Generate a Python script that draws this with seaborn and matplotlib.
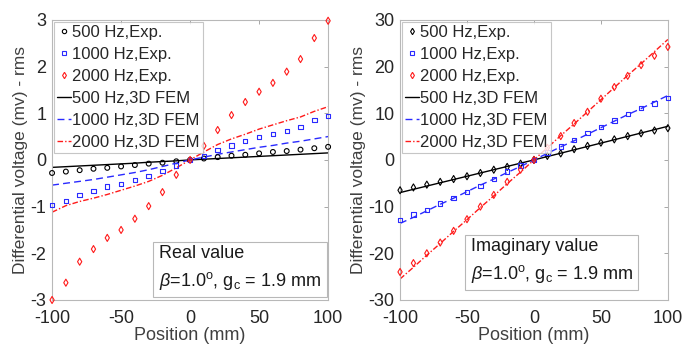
import numpy as np
import pandas as pd
import matplotlib
matplotlib.use("Agg")
import matplotlib.pyplot as plt
import seaborn as sns

positions = [-100, -90, -80, -70, -60, -50, -40, -30, -20, -10, 0,
             10, 20, 30, 40, 50, 60, 70, 80, 90, 100]

# Real value panel
real_500_exp = [-0.28, -0.25, -0.22, -0.19, -0.17, -0.14, -0.11, -0.08, -0.06, -0.03, 0.0,
                0.03, 0.06, 0.09, 0.11, 0.14, 0.17, 0.19, 0.22, 0.25, 0.28]
real_1000_exp = [-0.96, -0.88, -0.75, -0.66, -0.57, -0.51, -0.43, -0.34, -0.24, -0.12, 0.0,
                 0.09, 0.21, 0.31, 0.41, 0.49, 0.56, 0.62, 0.71, 0.86, 0.94]
real_2000_exp = [-3.0, -2.63, -2.18, -1.91, -1.67, -1.5, -1.26, -0.99, -0.69, -0.32, 0.0,
                 0.30, 0.64, 0.96, 1.24, 1.46, 1.65, 1.89, 2.16, 2.61, 2.98]
real_500_fem = [-0.16, -0.145, -0.13, -0.115, -0.10, -0.085, -0.07, -0.05, -0.035, -0.02, 0.0,
                0.015, 0.03, 0.045, 0.06, 0.075, 0.09, 0.105, 0.12, 0.135, 0.15]
real_1000_fem = [-0.54, -0.50, -0.46, -0.42, -0.37, -0.32, -0.27, -0.21, -0.14, -0.07, 0.0,
                 0.06, 0.12, 0.17, 0.22, 0.27, 0.31, 0.36, 0.40, 0.45, 0.50]
real_2000_fem = [-1.12, -0.98, -0.89, -0.82, -0.74, -0.65, -0.56, -0.46, -0.33, -0.17, 0.0,
                 0.17, 0.33, 0.45, 0.55, 0.66, 0.75, 0.84, 0.92, 1.04, 1.14]

# Imaginary value panel
imag_500_exp = [-6.5, -5.9, -5.3, -4.7, -4.1, -3.5, -2.8, -2.1, -1.5, -0.8, 0.0,
                0.85, 1.4, 2.3, 3.0, 3.7, 4.4, 5.1, 5.7, 6.3, 6.8]
imag_1000_exp = [-12.9, -11.7, -10.7, -9.3, -8.2, -6.9, -5.6, -4.1, -2.5, -1.2, 0.0,
                 1.6, 2.9, 4.3, 5.7, 7.1, 8.4, 9.8, 11.1, 12.1, 13.2]
imag_2000_exp = [-24.0, -22.1, -20.0, -17.7, -15.2, -12.7, -10.0, -7.5, -4.7, -2.1, 0.0,
                 2.6, 5.1, 7.9, 10.3, 13.1, 15.6, 18.0, 20.3, 22.3, 24.2]
imag_500_fem = [-7.0, -6.3, -5.6, -4.9, -4.2, -3.5, -2.8, -2.1, -1.4, -0.7, 0.0,
                0.72, 1.44, 2.16, 2.88, 3.6, 4.32, 5.04, 5.76, 6.48, 7.2]
imag_1000_fem = [-13.6, -12.3, -10.9, -9.5, -8.2, -6.8, -5.4, -4.1, -2.7, -1.4, 0.0,
                 1.4, 2.8, 4.1, 5.5, 6.9, 8.3, 9.7, 11.0, 12.4, 13.8]
imag_2000_fem = [-25.5, -23.0, -20.4, -17.9, -15.3, -12.8, -10.2, -7.7, -5.1, -2.6, 0.0,
                 2.6, 5.2, 7.7, 10.3, 12.9, 15.5, 18.1, 20.6, 23.2, 25.8]

xticks = [-100, -50, 0, 50, 100]
real_yticks = [-3, -2, -1, 0, 1, 2, 3]
imag_yticks = [-30, -20, -10, 0, 10, 20, 30]
legend_labels = ["500 Hz,Exp.", "1000 Hz,Exp.", "2000 Hz,Exp.",
                 "500 Hz,3D FEM", "1000 Hz,3D FEM", "2000 Hz,3D FEM"]

sns.set_style("white")
plt.rcParams['font.family'] = ['Liberation Sans', 'DejaVu Sans']
plt.rcParams['mathtext.fontset'] = 'custom'
plt.rcParams['mathtext.rm'] = 'Liberation Sans'
plt.rcParams['mathtext.it'] = 'Liberation Sans:italic'

fig = plt.figure(figsize=(6.85, 3.48), dpi=100)
ax1 = fig.add_axes([0.076, 0.138, 0.403, 0.805])
ax2 = fig.add_axes([0.584, 0.138, 0.391, 0.805])

BLACK = "#000000"
BLUE = "#2a2aff"
RED = "#ff1a1a"
GRAY = "#b8b8b8"
MSIZE = {"o": 12, "s": 10, "d": 13}


def draw(ax, exp, fem, markers, yticks, ylim, boxtitle, boxpos):
    x = positions
    colors = [BLACK, BLUE, RED]
    styles = ["-", (0, (5, 3)), (0, (4, 1.5, 1, 1.5))]
    handles = []
    for vals, col, mk in zip(exp, colors, markers):
        df = pd.DataFrame({"x": x, "y": vals})
        sns.scatterplot(data=df, x="x", y="y", ax=ax, marker=mk, s=MSIZE[mk],
                        facecolor="none", edgecolor=col, linewidth=0.8, zorder=3,
                        clip_on=False)
        h, = ax.plot([], [], linestyle="none", marker=mk,
                     markersize=np.sqrt(MSIZE[mk]) * 0.9,
                     markerfacecolor="none", markeredgecolor=col, markeredgewidth=0.8)
        handles.append(h)
    for vals, col, ls in zip(fem, colors, styles):
        df = pd.DataFrame({"x": x, "y": vals})
        sns.lineplot(data=df, x="x", y="y", ax=ax, color=col, linestyle=ls,
                     linewidth=1.0, zorder=2)
        h, = ax.plot([], [], color=col, linestyle=ls, linewidth=1.0)
        handles.append(h)
    ax.set_xlim(-100, 100)
    ax.set_ylim(*ylim)
    ax.set_xticks(xticks)
    ax.set_yticks(yticks)
    ax.set_xticklabels([str(t) for t in xticks])
    ax.set_yticklabels([str(t) for t in yticks])
    ax.tick_params(direction="in", length=3, width=0.6, color="#999999",
                   labelsize=13, top=True, right=True,
                   labelcolor="#262626")
    ax.tick_params(axis="x", pad=7)
    ax.tick_params(axis="y", pad=4)
    for s in ax.spines.values():
        s.set_color(GRAY)
        s.set_linewidth(0.8)
    ax.set_xlabel("Position (mm)", fontsize=13, color="#404040", labelpad=0)
    ax.set_ylabel("Differential voltage (mv) - rms", fontsize=12.5, color="#404040",
                  labelpad=2)
    leg = ax.legend(handles, legend_labels, loc="upper left", fontsize=12,
                    handlelength=0.85, handletextpad=0.05, borderpad=0.2,
                    labelspacing=0.42, borderaxespad=0.1, fancybox=False,
                    frameon=True)
    leg.get_frame().set_edgecolor(GRAY)
    leg.get_frame().set_linewidth(0.8)
    ax.text(boxpos[0], boxpos[1],
            boxtitle + "\n" + r"$\mathit{\beta}$=1.0$^{\mathrm{o}}$, g$_{\mathrm{c}}$ = 1.9 mm",
            transform=ax.transAxes, ha="right", va="bottom", fontsize=13,
            multialignment="left", linespacing=1.45, color="#1a1a1a",
            bbox=dict(boxstyle="square,pad=0.3", facecolor="white",
                      edgecolor=GRAY, linewidth=0.8))


draw(ax1, [real_500_exp, real_1000_exp, real_2000_exp],
     [real_500_fem, real_1000_fem, real_2000_fem],
     ["o", "s", "d"], real_yticks, (-3, 3), "Real value", (0.975, 0.03))
draw(ax2, [imag_500_exp, imag_1000_exp, imag_2000_exp],
     [imag_500_fem, imag_1000_fem, imag_2000_fem],
     ["d", "s", "d"], imag_yticks, (-30, 30), "Imaginary value", (0.87, 0.055))

fig.savefig("out.png", dpi=100)
